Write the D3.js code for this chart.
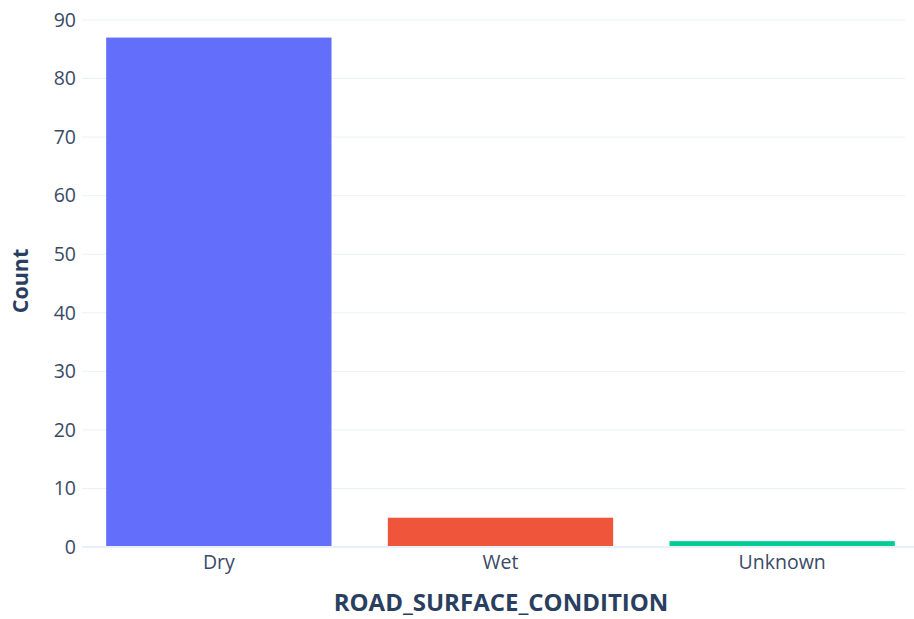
<!DOCTYPE html>
<html>
<head>
<meta charset="utf-8">
<script src="https://cdn.jsdelivr.net/npm/d3@7"></script>
<style>
  body { margin: 0; background: #fff; }
  text { font-family: "Open Sans", "Noto Sans", sans-serif; }
</style>
</head>
<body>
<div id="chart"></div>
<script>
// data
const categories = ["Dry", "Wet", "Unknown"];
const counts = [87, 5, 1];
const colors = ["#636EFA", "#EF553B", "#00CC96"];
const yTicks = [0, 10, 20, 30, 40, 50, 60, 70, 80, 90];

const width = 914, height = 619;
const margin = { left: 78, right: -9, top: 20, bottom: 72 };

const svg = d3.select("#chart")
    .append("svg")
    .attr("width", width)
    .attr("height", height);

const x = d3.scaleBand()
    .domain(categories)
    .range([margin.left, width - margin.right])
    .paddingInner(0.2)
    .paddingOuter(0.1);

const y = d3.scaleLinear()
    .domain([0, 90])
    .range([height - margin.bottom, margin.top]);

// gridlines
svg.append("g")
    .selectAll("line")
    .data(yTicks.filter(d => d > 0))
    .join("line")
    .attr("x1", margin.left + 4)
    .attr("x2", 905)
    .attr("y1", d => y(d))
    .attr("y2", d => y(d))
    .attr("stroke", "#EBF0F8")
    .attr("stroke-width", 1);

// bars
svg.append("g")
    .selectAll("rect")
    .data(categories)
    .join("rect")
    .attr("x", d => x(d))
    .attr("width", x.bandwidth())
    .attr("y", (d, i) => y(counts[i]))
    .attr("height", (d, i) => y(0) - y(counts[i]))
    .attr("fill", (d, i) => colors[i]);

// zero line
svg.append("line")
    .attr("x1", margin.left + 4)
    .attr("x2", width)
    .attr("y1", y(0))
    .attr("y2", y(0))
    .attr("stroke", "#EBF0F8")
    .attr("stroke-width", 2);

// y axis
const yAxis = svg.append("g")
    .attr("transform", `translate(${margin.left},0)`)
    .call(d3.axisLeft(y).tickValues(yTicks).tickSize(0).tickPadding(2));
yAxis.select(".domain").remove();
yAxis.selectAll("text")
    .attr("font-size", 19.5)
    .attr("fill", "#3a4a66")
    .style("font-family", '"Open Sans", sans-serif');

// x axis
const xAxis = svg.append("g")
    .attr("transform", `translate(0,${y(0)})`)
    .call(d3.axisBottom(x).tickSize(0).tickPadding(8));
xAxis.select(".domain").remove();
xAxis.selectAll("text")
    .attr("font-size", 19.5)
    .attr("fill", "#3a4a66")
    .style("font-family", '"Open Sans", sans-serif');

// axis titles
svg.append("text")
    .attr("x", 501)
    .attr("y", 611)
    .attr("text-anchor", "middle")
    .attr("font-size", 24)
    .attr("font-weight", "bold")
    .attr("fill", "#2a3f5f")
    .text("ROAD_SURFACE_CONDITION");

svg.append("text")
    .attr("transform", "translate(28,281) rotate(-90)")
    .attr("text-anchor", "middle")
    .attr("font-size", 21.5)
    .attr("font-weight", "bold")
    .attr("fill", "#2a3f5f")
    .text("Count");
</script>
</body>
</html>
